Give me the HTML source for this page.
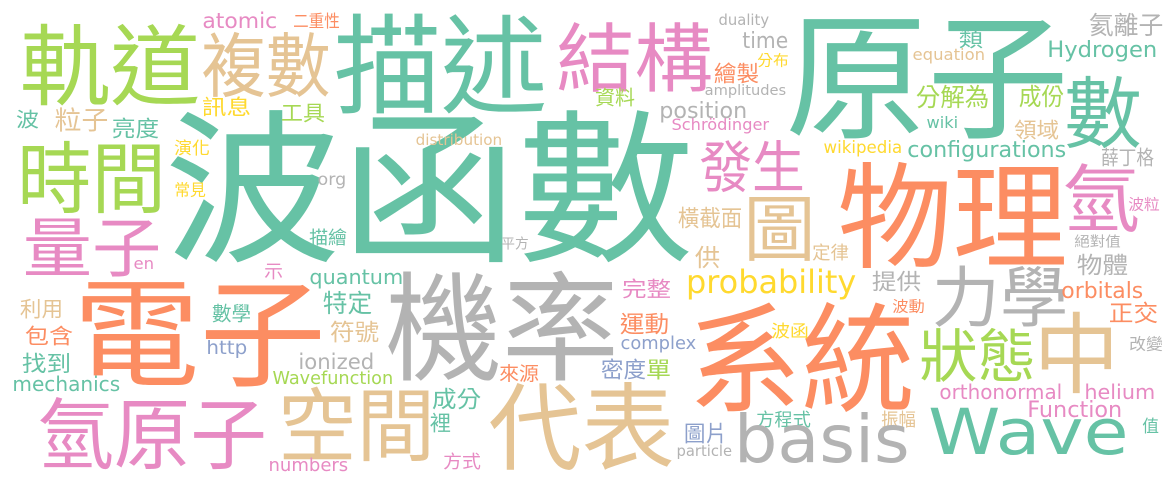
<!DOCTYPE html>
<html><head><meta charset="utf-8">
<style>
html,body{margin:0;padding:0;background:#fff;}
svg{display:block;}
text{font-family:"DejaVu Sans","Liberation Sans","Noto Sans CJK TC",sans-serif;}
.cjk{font-family:"Noto Sans CJK TC","WenQuanYi Zen Hei",sans-serif;}
</style></head>
<body>
<svg id="cloud" width="1175" height="482" viewBox="0 0 1175 482" xmlns="http://www.w3.org/2000/svg">
<rect width="1175" height="482" fill="#fff"/>
</svg>
<script>
const palette = {T:"#66c2a5",O:"#fc8d62",B:"#8da0cb",P:"#e78ac3",Gr:"#a6d854",Y:"#ffd92f",Tan:"#e5c494",G:"#b3b3b3"};
// CJK words: text, color, inkLeft, inkRight, inkTop, fontSize
const cjkWords = [
["波函數","T",172,686,112,165],["原子","T",792,1062,13,138],["電子","O",79,320,279,118],
["機率","G",391,613,273,118],["系統","O",694,909,304,118],["物理","O",843,1062,163,115],
["代表","Tan",493,670,383,95],["軌道","Gr",24,196,25,88],["複數","Tan",205,327,33,70],
["描述","T",339,542,15,108],["結構","P",560,709,23,75],["時間","Gr",21,162,142,78],
["量子","P",26,158,217,65],["氫原子","P",41,263,398,78],["空間","Tan",282,431,388,80],
["數","T",1068,1138,77,78],["發生","P",702,802,141,56],["氫","P",1066,1136,164,74],
["圖","Tan",747,812,195,72],["力學","G",935,1065,266,66],["狀態","Gr",922,1033,329,58],
["中","Tan",1038,1115,313,88],["二重性","O",294,339,13,17],["訊息","Y",203,250,97,21],
["工具","Gr",282,324,103,21],["波","T",17,38,110,20],["粒子","Tan",56,107,108,26],
["亮度","T",113,158,118,22],["演化","Y",175,209,140,17],["常見","Y",175,205,182,16],
["描繪","T",310,346,229,18],["平方","G",502,528,237,14],["分布","Y",758,788,53,15],
["繪製","O",715,758,63,22],["資料","Gr",596,634,88,20],["類","T",960,982,28,22],
["氦離子","G",1090,1162,13,25],["分解為","Gr",917,988,85,25],["成份","Gr",1020,1063,85,24],
["領域","Tan",1015,1058,120,21],["薛丁格","G",1102,1153,148,20],["波粒","P",1129,1159,197,15],
["橫截面","Tan",679,741,207,23],["絕對值","G",1075,1120,235,14],["示","P",265,282,263,18],
["利用","Tan",21,62,299,21],["數學","T",213,250,304,20],["特定","T",324,371,291,25],
["符號","Tan",331,378,321,23],["包含","O",26,72,326,21],["找到","T",23,70,353,22],
["來源","O",500,538,364,19],["成分","T",433,480,388,23],["裡","T",431,450,413,21],
["方式","P",444,480,453,18],["供","Tan",696,719,246,24],["定律","Tan",813,848,244,18],
["物體","G",1078,1127,254,23],["提供","G",873,920,271,22],["完整","P",623,670,279,21],
["波動","O",893,924,299,15],["正交","O",1110,1157,302,23],["運動","O",621,668,313,23],
["波函","Y",772,808,323,17],["改變","G",1130,1162,336,16],["密度","B",602,645,359,22],
["單","Gr",647,670,359,22],["方程式","T",757,810,411,18],["振幅","Tan",882,915,411,18],
["值","T",1143,1158,418,17],["圖片","B",685,726,423,22]
];
// Latin words: text, color, inkLeft, inkRight, baseline, fontSize
const latinWords = [
["atomic","P",203,277,28,21],["duality","G",719,769,25,15],["time","G",743,788,48,22],
["amplitudes","G",705,786,95,14],["position","G",660,747,118,22],["Schrödinger","P",672,769,130,16],
["equation","Tan",913,985,60,16],["Hydrogen","T",1048,1157,57,22],["wiki","T",927,958,128,16],
["wikipedia","Y",824,902,153,17],["configurations","T",908,1066,157,22],["distribution","Tan",416,502,145,15],
["org","G",318,346,185,17],["en","P",134,154,269,16],["quantum","T",310,403,284,20],
["http","B",207,247,354,19],["ionized","G",299,374,369,21],["mechanics","T",13,120,391,20],
["Wavefunction","Gr",273,393,384,17.5],["numbers","P",269,348,471,18],["probability","Y",687,856,293,32],
["orbitals","O",1062,1143,298,22],["complex","B",621,696,349,18],["orthonormal","P",940,1062,399,20],
["helium","P",1085,1155,399,20],["Function","P",1028,1122,417,22],["particle","G",677,732,456,15],
["basis","G",736,909,462,66],["Wave","T",930,1128,454,63]
];
const svg = document.getElementById('cloud');
const NS = "http://www.w3.org/2000/svg";
cjkWords.forEach(w => {
  const fs = w[5];
  const t = document.createElementNS(NS, 'text');
  
  
  t.setAttribute('class', 'cjk');
  t.setAttribute('x', (w[2] - 0.05 * fs).toFixed(1));
  t.setAttribute('y', (w[4] + 0.83 * fs).toFixed(1));
  t.setAttribute('font-size', fs);
  t.setAttribute('fill', palette[w[1]]);
  t.setAttribute('textLength', (w[3] - w[2] + 0.1 * fs).toFixed(1));
  t.setAttribute('lengthAdjust', 'spacingAndGlyphs');
  t.textContent = w[0];
  svg.appendChild(t);
});
latinWords.forEach(w => {
  const fs = w[5];
  const t = document.createElementNS(NS, 'text');
  
  
  t.setAttribute('x', (w[2] - 0.03 * fs).toFixed(1));
  t.setAttribute('y', w[4]);
  t.setAttribute('font-size', fs);
  t.setAttribute('fill', palette[w[1]]);
  t.setAttribute('textLength', (w[3] - w[2] + 0.04 * fs).toFixed(1));
  t.setAttribute('lengthAdjust', 'spacingAndGlyphs');
  t.textContent = w[0];
  svg.appendChild(t);
});
</script>
</body></html>
